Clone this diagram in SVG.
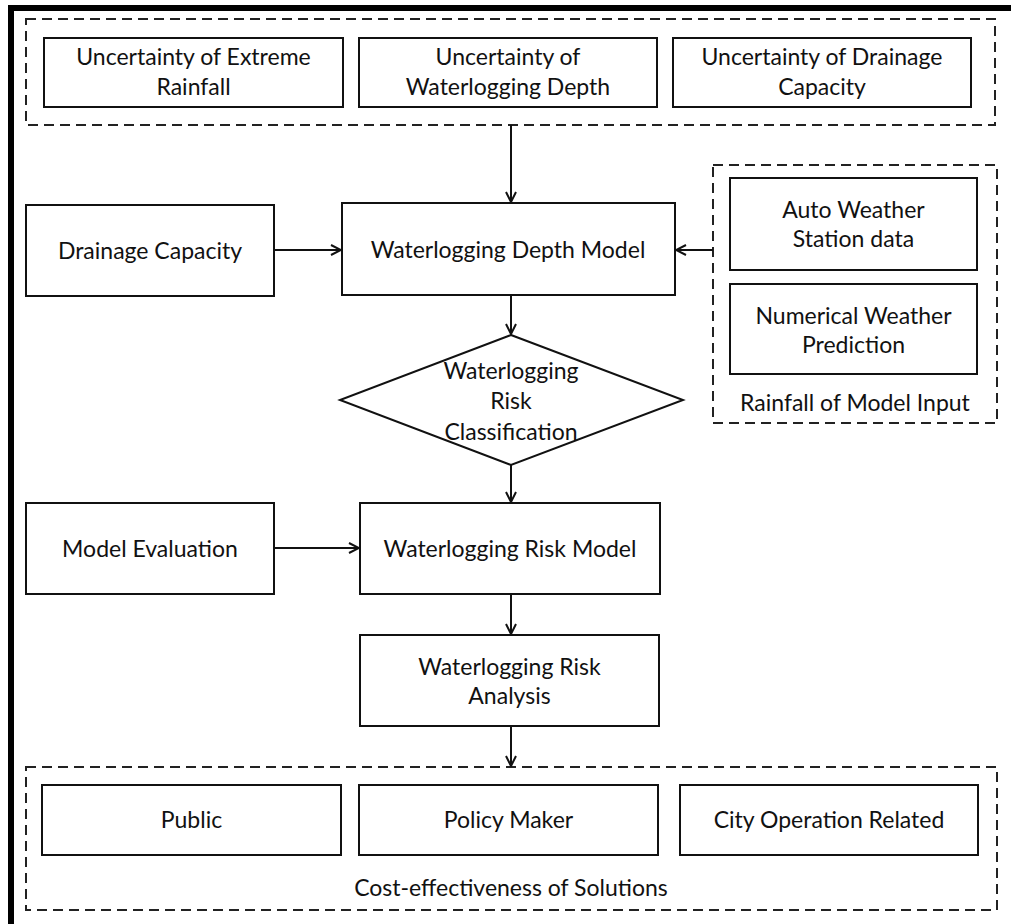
<svg xmlns="http://www.w3.org/2000/svg" width="1011" height="924" viewBox="0 0 1011 924">
<defs>
<style>
.box{fill:#fff;stroke:#111;stroke-width:2}
.grp{fill:none;stroke:#222;stroke-width:2;stroke-dasharray:10 6}
.t{font-family:Lato,"Open Sans","Liberation Sans",sans-serif;font-size:23px;fill:#111;text-anchor:middle}
.c{fill:none;stroke:#111;stroke-width:2;marker-end:url(#ah)}
</style>
<marker id="ah" viewBox="0 0 12 12" refX="11" refY="6" markerWidth="12" markerHeight="12" markerUnits="userSpaceOnUse" orient="auto">
<polyline points="1,1 11,6 1,11" fill="none" stroke="#111" stroke-width="2"/>
</marker>
</defs>
<rect x="0" y="0" width="1011" height="924" fill="#fff"/>
<rect x="11" y="8" width="1020" height="940" fill="none" stroke="#000" stroke-width="6"/>

<g id="grp-uncertainty">
<rect class="grp" x="26" y="19" width="969" height="106"/>
</g>
<g id="n-extreme-rainfall">
<rect class="box" x="44" y="38" width="299" height="69"/>
<text class="t" x="193.5" y="65">Uncertainty of Extreme</text>
<text class="t" x="193.5" y="95">Rainfall</text>
</g>
<g id="n-depth-unc">
<rect class="box" x="359" y="38" width="298" height="69"/>
<text class="t" x="508" y="65">Uncertainty of</text>
<text class="t" x="508" y="95">Waterlogging Depth</text>
</g>
<g id="n-drain-unc">
<rect class="box" x="673" y="38" width="298" height="69"/>
<text class="t" x="822" y="65">Uncertainty of Drainage</text>
<text class="t" x="822" y="95">Capacity</text>
</g>

<g id="n-drainage">
<rect class="box" x="26" y="205" width="248" height="91"/>
<text class="t" x="150" y="259">Drainage Capacity</text>
</g>
<g id="n-depth-model">
<rect class="box" x="342" y="203" width="333" height="92"/>
<text class="t" x="508" y="258">Waterlogging Depth Model</text>
</g>

<g id="grp-rainfall">
<rect class="grp" x="713" y="165" width="284" height="258"/>
<text class="t" x="855" y="411">Rainfall of Model Input</text>
</g>
<g id="n-aws">
<rect class="box" x="730" y="178" width="247" height="92"/>
<text class="t" x="853.5" y="218">Auto Weather</text>
<text class="t" x="853.5" y="247">Station data</text>
</g>
<g id="n-nwp">
<rect class="box" x="730" y="284" width="247" height="90"/>
<text class="t" x="853.5" y="324">Numerical Weather</text>
<text class="t" x="853.5" y="353">Prediction</text>
</g>

<g id="n-classification">
<polygon class="box" points="511,335 683,400 511,465 340,400"/>
<text class="t" x="511" y="379">Waterlogging</text>
<text class="t" x="511" y="409">Risk</text>
<text class="t" x="511" y="440">Classification</text>
</g>

<g id="n-evaluation">
<rect class="box" x="26" y="503" width="248" height="91"/>
<text class="t" x="150" y="557">Model Evaluation</text>
</g>
<g id="n-risk-model">
<rect class="box" x="360" y="503" width="300" height="91"/>
<text class="t" x="510" y="557">Waterlogging Risk Model</text>
</g>
<g id="n-risk-analysis">
<rect class="box" x="360" y="635" width="299" height="91"/>
<text class="t" x="509.5" y="675">Waterlogging Risk</text>
<text class="t" x="509.5" y="704">Analysis</text>
</g>

<g id="grp-solutions">
<rect class="grp" x="26" y="767" width="971" height="143"/>
<text class="t" x="511" y="896">Cost-effectiveness of Solutions</text>
</g>
<g id="n-public">
<rect class="box" x="42" y="785" width="299" height="70"/>
<text class="t" x="191.5" y="828">Public</text>
</g>
<g id="n-policy">
<rect class="box" x="359" y="785" width="299" height="70"/>
<text class="t" x="508.5" y="828">Policy Maker</text>
</g>
<g id="n-city">
<rect class="box" x="680" y="785" width="298" height="70"/>
<text class="t" x="829" y="828">City Operation Related</text>
</g>

<g id="connectors">
<line class="c" x1="511" y1="125" x2="511" y2="202"/>
<line class="c" x1="274" y1="250" x2="341" y2="250"/>
<line class="c" x1="713" y1="250" x2="676" y2="250"/>
<line class="c" x1="511" y1="295" x2="511" y2="334"/>
<line class="c" x1="511" y1="465" x2="511" y2="502"/>
<line class="c" x1="274" y1="548" x2="359" y2="548"/>
<line class="c" x1="511" y1="594" x2="511" y2="634"/>
<line class="c" x1="511" y1="726" x2="511" y2="766"/>
</g>
</svg>
